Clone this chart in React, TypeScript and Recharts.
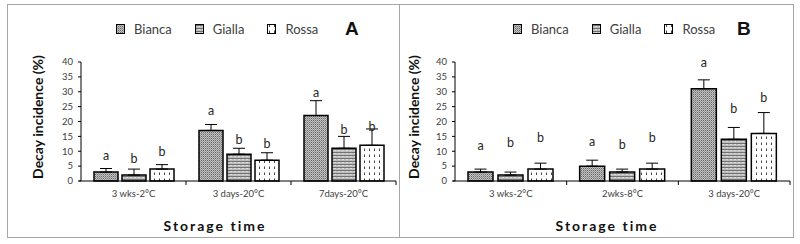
import { BarChart, Bar, XAxis, YAxis, ErrorBar, LabelList } from 'recharts'

// panel A
const categoriesA = ['3 wks-2°C', '3 days-20°C', '7days-20°C']
const biancaA = [3, 17, 22]
const giallaA = [2, 9, 11]
const rossaA = [4, 7, 12]
const biancaErrA = [1.2, 2, 5]
const giallaErrA = [2, 2, 4]
const rossaErrA = [1.5, 2.5, 5.5]
const biancaLetterA = ['a', 'a', 'a']
const giallaLetterA = ['b', 'b', 'b']
const rossaLetterA = ['b', 'b', 'b']
// height (in %) where the letters sit
const biancaLetterPosA = [8.7, 23.7, 29.7]
const giallaLetterPosA = [7.7, 14, 17.3]
const rossaLetterPosA = [10, 12.7, 18.3]

// panel B
const categoriesB = ['3 wks-2°C', '2wks-8°C', '3 days-20°C']
const biancaB = [3, 5, 31]
const giallaB = [2, 3, 14]
const rossaB = [4, 4, 16]
const biancaErrB = [1, 2, 3]
const giallaErrB = [1, 1, 4]
const rossaErrB = [2, 2, 7]
const biancaLetterB = ['a', 'a', 'a']
const giallaLetterB = ['b', 'b', 'b']
const rossaLetterB = ['b', 'b', 'b']
const biancaLetterPosB = [12, 13.3, 40]
const giallaLetterPosB = [13, 12.3, 24.3]
const rossaLetterPosB = [14.7, 14.7, 28]

const yTicks = [0, 5, 10, 15, 20, 25, 30, 35, 40]
const seriesNames = ['Bianca', 'Gialla', 'Rossa']
const patternIds = ['pat-bianca', 'pat-gialla', 'pat-rossa']

const FONT = 'Lato, "Open Sans", sans-serif'
const TICK_COLOR = '#404040'

function buildRows(
  cats: string[],
  b: number[], g: number[], r: number[],
  be: number[], ge: number[], re: number[],
) {
  return cats.map((cat, i) => ({
    cat,
    bianca: b[i],
    gialla: g[i],
    rossa: r[i],
    biancaErr: [0, be[i]],
    giallaErr: [0, ge[i]],
    rossaErr: [0, re[i]],
  }))
}

const rowsA = buildRows(categoriesA, biancaA, giallaA, rossaA, biancaErrA, giallaErrA, rossaErrA)
const rowsB = buildRows(categoriesB, biancaB, giallaB, rossaB, biancaErrB, giallaErrB, rossaErrB)

function Patterns() {
  return (
    <svg width={0} height={0} style={{ position: 'absolute' }}>
      <defs>
        <pattern id="pat-bianca" width={2} height={2} patternUnits="userSpaceOnUse">
          <rect width={2} height={2} fill="#c4c4c4" />
          <rect x={0} y={0} width={1} height={1} fill="#666" />
          <rect x={1} y={1} width={1} height={1} fill="#959595" />
        </pattern>
        <pattern id="pat-gialla" width={4} height={3} patternUnits="userSpaceOnUse">
          <rect width={4} height={3} fill="#fff" />
          <path d="M0 2.5 L1 0.5 L2 2.5 L3 0.5 L4 2.5" fill="none" stroke="#333" strokeWidth={0.7} />
        </pattern>
        <pattern id="pat-rossa" width={5} height={6} patternUnits="userSpaceOnUse">
          <rect width={5} height={6} fill="#fff" />
          <line x1={2.5} y1={0.5} x2={2.5} y2={3} stroke="#444" strokeWidth={1} />
        </pattern>
      </defs>
    </svg>
  )
}

// letter over a bar, placed at a y value using the bar's own scale
function letterLabel(letters: string[], pos: number[]) {
  return (props: any) => {
    const { x, y, width, height, value, index } = props
    if (value == null || !height) return null
    const base = Number(y) + Number(height)
    const perUnit = Number(height) / Number(value)
    const ly = base - pos[index] * perUnit
    return (
      <text
        x={Number(x) + Number(width) / 2}
        y={ly}
        textAnchor="middle"
        dominantBaseline="central"
        fontSize={12.5}
        fontFamily={FONT}
        fill="#262626"
      >
        {letters[index]}
      </text>
    )
  }
}

function catTick(bw: number) {
  return (props: any) => {
    const { x, y, payload, index } = props
    return (
      <g>
        {index === 0 && <line x1={x - bw / 2 - 2} y1={y} x2={x - bw / 2} y2={y} stroke="#000" />}
        <line x1={x + bw / 2} y1={y} x2={x + bw / 2} y2={y + 4} stroke="#000" />
        <text x={x} y={y + 12} textAnchor="middle" dominantBaseline="central" fontSize={9.5} fontFamily={FONT} fill={TICK_COLOR}>
          {payload.value}
        </text>
      </g>
    )
  }
}

interface PanelProps {
  rows: ReturnType<typeof buildRows>
  width: number
  marginLeft: number
  barSize: number
  barGap: number
  letters: string[][]
  letterPos: number[][]
}

const CHART_H = 233
const MARGIN_TOP = 58
const MARGIN_RIGHT = 3
const Y_W = 22

function Panel({ rows, width, marginLeft, barSize, barGap, letters, letterPos }: PanelProps) {
  const bw = (width - marginLeft - Y_W - MARGIN_RIGHT) / rows.length
  const keys = ['bianca', 'gialla', 'rossa']
  return (
    <BarChart
      width={width}
      height={CHART_H}
      data={rows}
      margin={{ top: MARGIN_TOP, right: MARGIN_RIGHT, bottom: 36, left: marginLeft }}
      barSize={barSize}
      barGap={barGap}
    >
      <XAxis
        dataKey="cat"
        axisLine={{ stroke: '#000' }}
        tickLine={false}
        tickSize={0}
        tickMargin={0}
        height={20}
        interval={0}
        tick={catTick(bw)}
      />
      <YAxis
        domain={[0, 40]}
        ticks={yTicks}
        width={Y_W}
        axisLine={{ stroke: '#000' }}
        tickLine={{ stroke: '#000' }}
        tickSize={3}
        tickMargin={5}
        tick={{ fontSize: 9.5, fill: TICK_COLOR, fontFamily: FONT }}
        interval={0}
      />
      {keys.map((k, i) => (
        <Bar
          key={k}
          dataKey={k}
          fill={`url(#${patternIds[i]})`}
          stroke="#000"
          strokeWidth={1.5}
          isAnimationActive={false}
        >
          <ErrorBar dataKey={`${k}Err`} width={6} stroke="#000" strokeWidth={1} direction="y" />
          <LabelList dataKey={k} content={letterLabel(letters[i], letterPos[i])} />
        </Bar>
      ))}
    </BarChart>
  )
}

function LegendRow({ left }: { left: number }) {
  return (
    <div style={{ position: 'absolute', left, top: 21, display: 'flex', gap: 23, alignItems: 'center', height: 16 }}>
      {seriesNames.map((name, i) => (
        <div key={name} style={{ display: 'flex', alignItems: 'center' }}>
          <svg width={9} height={10} style={{ display: 'block' }}>
            <rect x={0.5} y={0.5} width={8} height={9} fill={`url(#${patternIds[i]})`} stroke="#000" />
          </svg>
          <span style={{ marginLeft: 9, fontSize: 13, fontFamily: FONT, color: '#404040' }}>{name}</span>
        </div>
      ))}
    </div>
  )
}

const titleStyle: React.CSSProperties = {
  position: 'absolute',
  fontFamily: FONT,
  fontWeight: 'bold',
  color: '#111',
  whiteSpace: 'nowrap',
}

export default function App() {
  return (
    <div style={{ position: 'absolute', left: 0, top: 0, width: 800, height: 244, background: '#fff', overflow: 'hidden' }}>
      <Patterns />
      {/* frames */}
      <div style={{ position: 'absolute', left: 7, top: 4, width: 393, height: 234, boxSizing: 'border-box', border: '1px solid #a6a6a6' }} />
      <div style={{ position: 'absolute', left: 399, top: 4, width: 395, height: 234, boxSizing: 'border-box', border: '1px solid #a6a6a6', borderLeft: 'none' }} />

      <div style={{ position: 'absolute', left: 7, top: 4 }}>
        <Panel
          rows={rowsA}
          width={392}
          marginLeft={52}
          barSize={24}
          barGap={4}
          letters={[biancaLetterA, giallaLetterA, rossaLetterA]}
          letterPos={[biancaLetterPosA, giallaLetterPosA, rossaLetterPosA]}
        />
      </div>
      <div style={{ position: 'absolute', left: 399, top: 4 }}>
        <Panel
          rows={rowsB}
          width={394}
          marginLeft={34}
          barSize={25}
          barGap={5}
          letters={[biancaLetterB, giallaLetterB, rossaLetterB]}
          letterPos={[biancaLetterPosB, giallaLetterPosB, rossaLetterPosB]}
        />
      </div>

      <LegendRow left={116} />
      <LegendRow left={513} />
      <div style={{ ...titleStyle, left: 345, top: 18, fontSize: 19, fontFamily: '"Liberation Sans", Arial, sans-serif' }}>A</div>
      <div style={{ ...titleStyle, left: 737, top: 18, fontSize: 19, fontFamily: '"Liberation Sans", Arial, sans-serif' }}>B</div>

      <div style={{ ...titleStyle, left: 37, top: 117, fontSize: 14, transform: 'translate(-50%, -50%) rotate(-90deg)' }}>
        Decay incidence (%)
      </div>
      <div style={{ ...titleStyle, left: 413, top: 117, fontSize: 14, transform: 'translate(-50%, -50%) rotate(-90deg)' }}>
        Decay incidence (%)
      </div>
      <div style={{ ...titleStyle, left: 215, top: 225, fontSize: 14, letterSpacing: 2, transform: 'translate(-50%, -50%)' }}>
        Storage time
      </div>
      <div style={{ ...titleStyle, left: 607, top: 225, fontSize: 14, letterSpacing: 2, transform: 'translate(-50%, -50%)' }}>
        Storage time
      </div>
    </div>
  )
}
